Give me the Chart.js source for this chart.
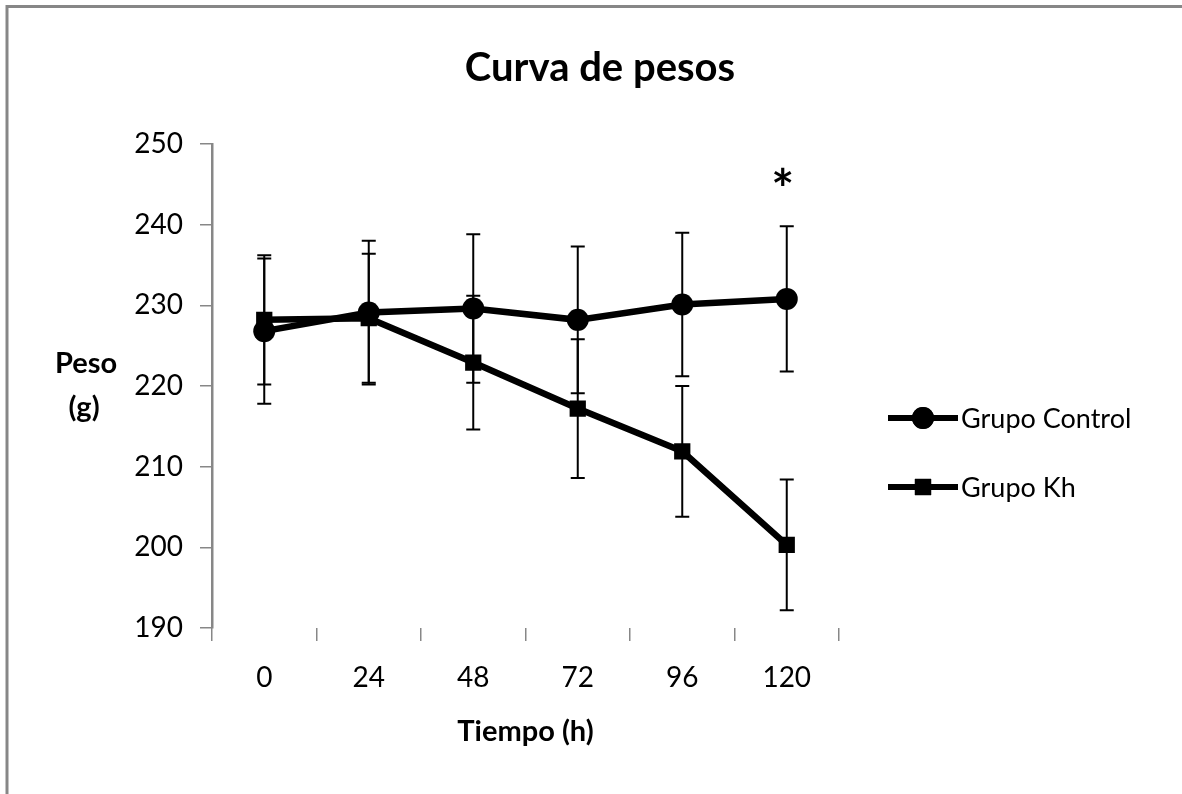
<!DOCTYPE html>
<html>
<head>
<meta charset="utf-8">
<title>Curva de pesos</title>
<script src="https://cdn.jsdelivr.net/npm/chart.js@4.4.1/dist/chart.umd.min.js"></script>
<style>
  html, body { margin: 0; padding: 0; background: #fff; }
  #grafico { display: block; }
</style>
</head>
<body>
<canvas id="grafico" width="1182" height="794"></canvas>
<script>
// Datos
const categorias = ['0', '24', '48', '72', '96', '120'];
const grupoControl = [226.8, 229.1, 229.6, 228.2, 230.1, 230.8];
const errorControl = [9.0, 8.9, 9.2, 9.1, 8.9, 9.0];
const grupoKh = [228.2, 228.4, 222.9, 217.2, 211.9, 200.3];
const errorKh = [8.0, 8.0, 8.3, 8.6, 8.1, 8.1];
const significancia = ['', '', '', '', '', '*'];
const ticksY = [190, 200, 210, 220, 230, 240, 250];

const FUENTE = 'Lato, "Open Sans", sans-serif';
const GRIS = '#878787';

// marco gris (solo arriba e izquierda) y fondo blanco
const marco = {
  id: 'marco',
  beforeDraw(chart) {
    const ctx = chart.ctx;
    ctx.save();
    ctx.fillStyle = '#fff';
    ctx.fillRect(0, 0, chart.width, chart.height);
    ctx.strokeStyle = GRIS;
    ctx.lineWidth = 3;
    ctx.beginPath();
    ctx.moveTo(7, chart.height);
    ctx.lineTo(7, 6.5);
    ctx.lineTo(chart.width, 6.5);
    ctx.stroke();
    ctx.restore();
  }
};

// barras de error + asterisco de significancia
const barrasError = {
  id: 'barrasError',
  afterDatasetsDraw(chart) {
    const ctx = chart.ctx;
    const y = chart.scales.y;
    ctx.save();
    ctx.strokeStyle = '#000';
    ctx.lineWidth = 2;
    chart.data.datasets.forEach((ds, di) => {
      const meta = chart.getDatasetMeta(di);
      meta.data.forEach((pt, i) => {
        const arriba = y.getPixelForValue(ds.data[i] + ds.errores[i]);
        const abajo = y.getPixelForValue(ds.data[i] - ds.errores[i]);
        ctx.beginPath();
        ctx.moveTo(pt.x, arriba); ctx.lineTo(pt.x, abajo);
        ctx.moveTo(pt.x - 7, arriba); ctx.lineTo(pt.x + 7, arriba);
        ctx.moveTo(pt.x - 7, abajo); ctx.lineTo(pt.x + 7, abajo);
        ctx.stroke();
      });
    });
    // asterisco sobre la barra mas alta
    const metaC = chart.getDatasetMeta(0);
    ctx.fillStyle = '#000';
    ctx.font = 'bold 54px ' + FUENTE;
    ctx.textAlign = 'center';
    ctx.textBaseline = 'alphabetic';
    significancia.forEach((s, i) => {
      if (!s) return;
      const tope = Math.max(grupoControl[i] + errorControl[i], grupoKh[i] + errorKh[i]);
      ctx.fillText(s, metaC.data[i].x - 4, y.getPixelForValue(tope) - 18);
    });
    ctx.restore();
  }
};

// titulo, titulo del eje Y horizontal y leyenda con linea + marcador
const textosExtra = {
  id: 'textosExtra',
  afterDraw(chart) {
    const ctx = chart.ctx;
    const area = chart.chartArea;
    ctx.save();
    ctx.fillStyle = '#000';
    ctx.textAlign = 'center';
    ctx.textBaseline = 'middle';

    ctx.font = 'bold 40px ' + FUENTE;
    ctx.fillText('Curva de pesos', chart.width / 2 + 9, area.top - 76);

    ctx.font = 'bold 29px ' + FUENTE;
    const medio = (area.top + area.bottom) / 2;
    ctx.fillText('Peso', area.left - 126, medio - 22);
    ctx.fillText('(g)', area.left - 128, medio + 22);

    // leyenda
    ctx.font = '27px ' + FUENTE;
    ctx.textAlign = 'left';
    chart.data.datasets.forEach((ds, i) => {
      const yy = area.top + 274 + i * 69;
      const x0 = area.right + 49;
      ctx.strokeStyle = '#000';
      ctx.lineWidth = 6;
      ctx.beginPath();
      ctx.moveTo(x0, yy); ctx.lineTo(x0 + 70, yy);
      ctx.stroke();
      Chart.helpers.drawPoint(ctx, {
        pointStyle: ds.pointStyle,
        radius: ds.pointRadius,
        borderWidth: 0
      }, x0 + 35, yy);
      ctx.fillStyle = '#000';
      ctx.fill();
      ctx.fillText(ds.label, x0 + 73, yy + 1);
    });
    ctx.restore();
  }
};

new Chart(document.getElementById('grafico'), {
  type: 'line',
  data: {
    labels: categorias,
    datasets: [
      {
        label: 'Grupo Control',
        data: grupoControl,
        errores: errorControl,
        borderColor: '#000',
        backgroundColor: '#000',
        borderWidth: 6.5,
        pointStyle: 'circle',
        pointRadius: 11,
        pointBorderWidth: 0,
        pointBackgroundColor: '#000',
        tension: 0
      },
      {
        label: 'Grupo Kh',
        data: grupoKh,
        errores: errorKh,
        borderColor: '#000',
        backgroundColor: '#000',
        borderWidth: 6.5,
        pointStyle: 'rect',
        pointRadius: 11.5,
        pointBorderWidth: 0,
        pointBackgroundColor: '#000',
        tension: 0
      }
    ]
  },
  options: {
    responsive: false,
    animation: false,
    devicePixelRatio: 1,
    layout: { padding: { left: 0, right: 343, top: 144, bottom: 0 } },
    plugins: {
      legend: { display: false },
      tooltip: { enabled: false },
      title: { display: false }
    },
    scales: {
      x: {
        offset: true,
        border: { display: false },
        grid: {
          offset: true,
          drawOnChartArea: false,
          drawTicks: true,
          tickLength: 13,
          color: GRIS,
          lineWidth: 1.5
        },
        ticks: {
          color: '#000',
          padding: 20,
          font: { size: 28, family: FUENTE }
        },
        title: {
          display: true,
          text: 'Tiempo (h)',
          color: '#000',
          font: { size: 29, weight: 'bold', family: FUENTE },
          padding: { top: 0, bottom: 45 }
        },
        afterFit(scale) { scale.height = 166; }
      },
      y: {
        min: ticksY[0],
        max: ticksY[ticksY.length - 1],
        border: { display: true, color: GRIS, width: 2.5 },
        grid: {
          drawOnChartArea: false,
          drawTicks: true,
          tickLength: 12,
          color: GRIS,
          lineWidth: 1.5
        },
        ticks: {
          stepSize: ticksY[1] - ticksY[0],
          color: '#000',
          padding: 17,
          font: { size: 28, family: FUENTE }
        },
        afterFit(scale) { scale.width = 212; }
      }
    }
  },
  plugins: [marco, barrasError, textosExtra]
});
</script>
</body>
</html>
